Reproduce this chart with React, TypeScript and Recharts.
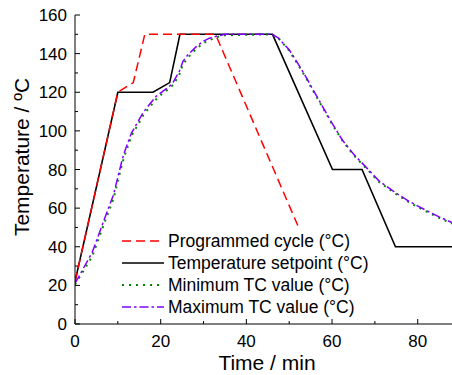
import React from "react";
import { Label, Legend, Line, LineChart, XAxis, YAxis } from "recharts";

// programmed cycle
const progTime = [0, 10, 13.6, 16.3, 32.8, 52];
const progTemp = [22, 120, 125, 150, 150, 51];

// temperature setpoint
const setTime = [0, 10, 18.2, 22.1, 24.5, 46.1, 60.1, 67, 74.8, 88];
const setTemp = [22, 120, 120, 125, 150, 150, 80, 80, 40, 40];

// thermocouples
const tcTime = [0, 2, 4, 5, 6.8, 9, 10, 11, 11.7, 13.2, 14.5, 15.9, 17.5, 19, 20.5, 22, 23, 24.4, 25.2, 26.4, 28.3, 30, 31.4, 33, 35, 46, 47.5, 50, 52, 53.9, 55.5, 57.7, 60, 62.4, 65, 67.8, 71, 74.8, 78, 81.8, 85, 88];
const tcMax = [21, 29, 37, 43, 54, 67, 76, 85, 90, 99, 104, 109.5, 114, 118, 120.5, 123, 125.5, 131, 136, 139.5, 143.6, 146.5, 148, 149, 150, 150, 148, 142, 135, 128, 121.5, 113, 104, 95.3, 88, 81.5, 74, 68, 63.5, 59, 55.5, 52.5];
const tcMin = [20.5, 27.5, 35, 41, 52, 65, 74, 83, 88, 97.5, 102.5, 108, 112.5, 116.5, 119.5, 122, 124, 129.5, 134.5, 138, 142.5, 145.5, 147, 148.5, 149.5, 150, 148, 141.5, 134.5, 127.5, 121, 112.5, 103.5, 95, 87.5, 81, 73.5, 67.5, 63, 58.5, 55, 52];

const xTicks = [0, 10, 20, 30, 40, 50, 60, 70, 80];
const yTicks = [0, 10, 20, 30, 40, 50, 60, 70, 80, 90, 100, 110, 120, 130, 140, 150, 160];

const toPoints = (t: number[], v: number[]) => t.map((x, i) => ({ t: x, v: v[i] }));

const FONT = "'Liberation Sans', Arial, sans-serif";

const series = [
  { name: "Programmed cycle (°C)", data: toPoints(progTime, progTemp), color: "#ff0000", dash: "9 5", width: 1.5 },
  { name: "Temperature setpoint (°C)", data: toPoints(setTime, setTemp), color: "#000000", dash: undefined, width: 1.6 },
  { name: "Minimum TC value (°C)", data: toPoints(tcTime, tcMin), color: "#008800", dash: "2 5", width: 2 },
  { name: "Maximum TC value (°C)", data: toPoints(tcTime, tcMax), color: "#8000ff", dash: "9 3 2.5 3", width: 1.5 },
];

const YTick = (props: any) => {
  const { x, y, payload } = props;
  const major = payload.value % 20 === 0;
  return (
    <g>
      <line x1={x + 8} x2={x + 8 + (major ? 5 : 3)} y1={y} y2={y} stroke="#000" />
      {major && (
        <text x={x} y={y} dy="0.36em" textAnchor="end" fontSize={17} fontFamily={FONT} fill="#000">
          {payload.value}
        </text>
      )}
    </g>
  );
};

const XTick = (props: any) => {
  const { x, y, payload } = props;
  const major = payload.value % 20 === 0;
  return (
    <g>
      <line x1={x} x2={x} y1={y} y2={y - (major ? 5 : 3)} stroke="#000" />
      {major && (
        <text x={x} y={y + 23} textAnchor="middle" fontSize={17} fontFamily={FONT} fill="#000">
          {payload.value}
        </text>
      )}
    </g>
  );
};

const TopTick = (props: any) => {
  const { x, y, payload } = props;
  const major = payload.value % 20 === 0;
  return <line x1={x} x2={x} y1={y} y2={y + (major ? 5 : 3)} stroke="#000" />;
};

const LegendBox = () => (
  <div style={{ fontFamily: FONT, fontSize: 17.5, color: "#000" }}>
    {series.map((s) => (
      <div key={s.name} style={{ display: "flex", alignItems: "center", height: 22 }}>
        <svg width={42} height={6} style={{ marginRight: 4 }}>
          <line x1={0} x2={42} y1={3} y2={3} stroke={s.color} strokeWidth={s.width} strokeDasharray={s.dash} />
        </svg>
        <span style={{ whiteSpace: "nowrap" }}>{s.name}</span>
      </div>
    ))}
  </div>
);

export default function App() {
  return (
    <div style={{ position: "absolute", left: 0, top: 0, width: 452, height: 375 }}>
      <LineChart width={452} height={375} margin={{ top: 15, right: 0, bottom: 0, left: 0 }}>
        <XAxis
          dataKey="t"
          type="number"
          domain={[0, 88]}
          ticks={xTicks}
          interval={0}
          height={51}
          tickSize={0}
          tickMargin={0}
          tick={<XTick />}
          axisLine={{ stroke: "#000" }}
          allowDataOverflow
        >
          <Label
            content={() => (
              <text x={267} y={370} textAnchor="middle" fontSize={21} fontWeight="normal" fontFamily={FONT} fill="#000">
                Time / min
              </text>
            )}
          />
        </XAxis>
        <XAxis
          xAxisId="top"
          orientation="top"
          type="number"
          domain={[0, 88]}
          ticks={xTicks}
          interval={0}
          height={0}
          tickSize={0}
          tickMargin={0}
          tick={<TopTick />}
          axisLine={{ stroke: "#000" }}
          allowDataOverflow
        />
        <YAxis
          type="number"
          domain={[0, 160]}
          ticks={yTicks}
          interval={0}
          width={75}
          tickSize={0}
          tickMargin={8}
          tick={<YTick />}
          axisLine={{ stroke: "#000" }}
        >
          <Label
            content={() => (
              <text
                x={29}
                y={157}
                transform="rotate(-90 29 157)"
                textAnchor="middle"
                fontSize={21}
                fontWeight="normal"
                fontFamily={FONT}
                fill="#000"
              >
                Temperature / ºC
              </text>
            )}
          />
        </YAxis>
        <Legend
          layout="vertical"
          align="center"
          verticalAlign="middle"
          content={<LegendBox />}
          wrapperStyle={{ left: 122, top: 230, width: 250, height: 90 }}
        />
        {[1, 0, 2, 3].map((i) => {
          const s = series[i];
          return (
            <Line
              key={s.name}
              data={s.data}
              dataKey="v"
              name={s.name}
              type="linear"
              stroke={s.color}
              strokeWidth={s.width}
              strokeDasharray={s.dash}
              dot={false}
              activeDot={false}
              isAnimationActive={false}
            />
          );
        })}
      </LineChart>
    </div>
  );
}
